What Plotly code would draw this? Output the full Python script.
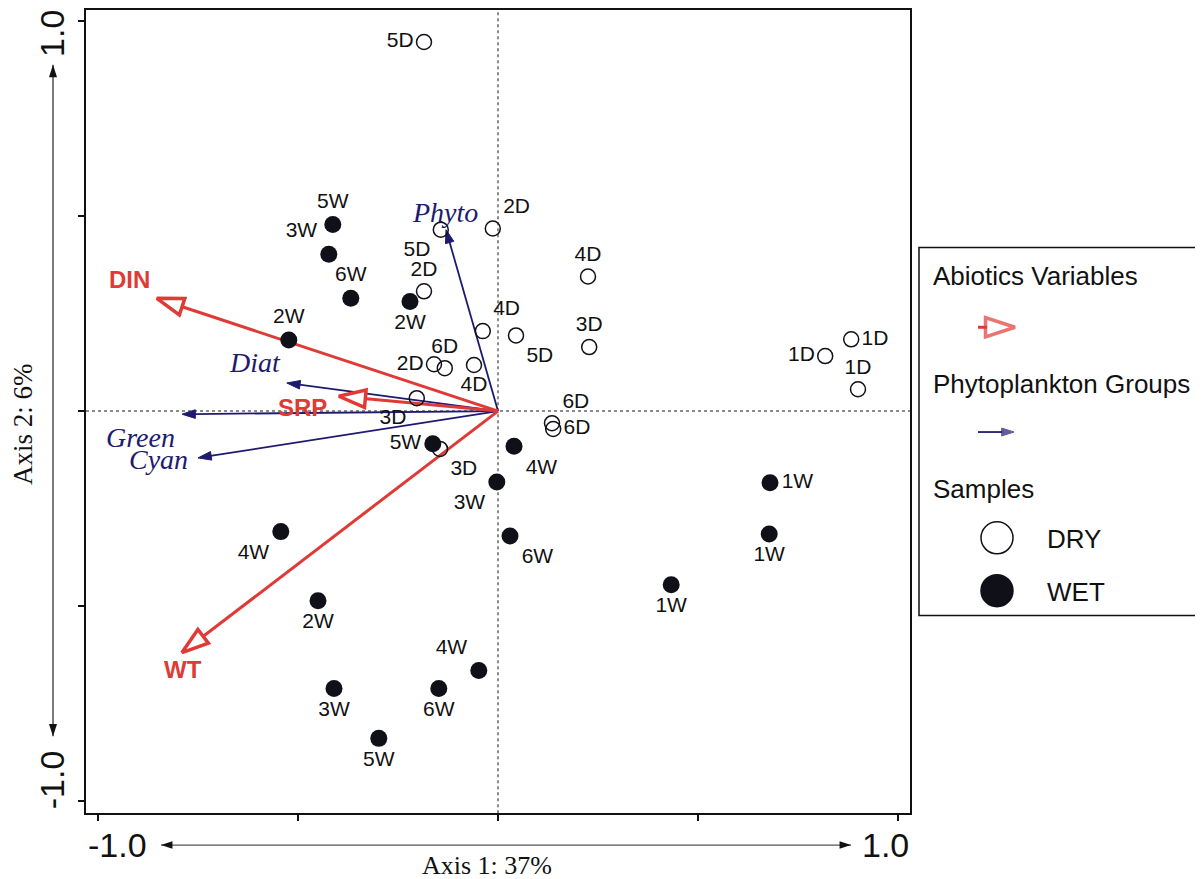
import plotly.graph_objects as go

# ---------------- data ----------------
dry_labels = ["5D", "2D", "5D", "2D", "4D", "4D", "5D", "3D", "2D", "6D", "4D", "3D", "6D", "6D", "3D", "1D", "1D", "1D"]
dry_x = [-0.185, -0.013, -0.143, -0.185, 0.225, -0.038, 0.045, 0.228, -0.160, -0.133, -0.060, -0.203, 0.135, 0.138, -0.145, 0.818, 0.883, 0.900]
dry_y = [0.946, 0.468, 0.465, 0.307, 0.345, 0.205, 0.194, 0.164, 0.120, 0.110, 0.118, 0.033, -0.031, -0.046, -0.097, 0.141, 0.184, 0.056]

wet_labels = ["5W", "3W", "6W", "2W", "2W", "5W", "4W", "3W", "6W", "1W", "1W", "1W", "4W", "2W", "4W", "3W", "6W", "5W"]
wet_x = [-0.413, -0.423, -0.368, -0.220, -0.523, -0.163, 0.040, -0.003, 0.030, 0.680, 0.678, 0.433, -0.543, -0.450, -0.048, -0.410, -0.148, -0.298]
wet_y = [0.478, 0.402, 0.289, 0.281, 0.182, -0.084, -0.090, -0.182, -0.320, -0.184, -0.315, -0.445, -0.309, -0.486, -0.665, -0.711, -0.711, -0.839]

abiotic_names = ["DIN", "SRP", "WT"]
abiotic_x = [-0.853, -0.398, -0.790]
abiotic_y = [0.289, 0.038, -0.619]

phyto_names = ["Phyto", "Diat", "Green", "Cyan"]
phyto_x = [-0.130, -0.528, -0.790, -0.750]
phyto_y = [0.465, 0.072, -0.008, -0.120]

axis_tick_text = ["-1.0", "1.0"]
axis1_title = "Axis 1: 37%"
axis2_title = "Axis 2: 6%"
legend_titles = ["Abiotics Variables", "Phytoplankton Groups", "Samples"]
legend_samples = ["DRY", "WET"]

# ---------------- styles ----------------
O = 8  # page body margin offset
W, H = 1203 - O, 879 - O
PL, PR, PT, PB = 86 - O, 910 - O, 8 - O, 813 - O
RED = "#E03A36"
NAVY = "#1E1A70"
BLACK = "#101018"
SANS = "Liberation Sans, Arial, sans-serif"
SERIF = "Liberation Serif, Times New Roman, serif"


def P(v):
    return v - O


dry_pos = ["middle left", "top right", "bottom left", "top center", "top center", "top right",
           "bottom right", "top center", "middle left", "top center", "bottom center", "bottom left",
           "top right", "middle right", "bottom right", "middle left", "middle right", "top center"]
wet_pos = ["top center", "top left", "top center", "bottom center", "top center", "middle left",
           "bottom right", "bottom left", "bottom right", "middle right", "bottom center", "bottom center",
           "bottom left", "bottom center", "top left", "bottom center", "bottom center", "bottom center"]

abiotic_shift = [(-27, 19), (-36, -11), (1, -17)]
phyto_shift = [(-1, 17), (-32, 20), (-42, -23), (-40, -2)]

fig = go.Figure()


def add_vector(x, y, color, width, size, fill, outline):
    fig.add_trace(go.Scatter(
        x=[0, x], y=[0, y], mode="lines+markers",
        line=dict(color=color, width=width),
        marker=dict(symbol=["circle", "arrow"], size=[0, size], color=fill, opacity=1,
                    angleref="previous", line=dict(color=color, width=[0, outline])),
        hoverinfo="skip", showlegend=False, cliponaxis=False))


for vx, vy in zip(phyto_x, phyto_y):
    add_vector(vx, vy, NAVY, 1.8, 14, NAVY, 1)
for vx, vy in zip(abiotic_x, abiotic_y):
    add_vector(vx, vy, RED, 3, 28, "white", 3.5)

fig.add_trace(go.Scatter(
    x=wet_x, y=wet_y, mode="markers+text", text=wet_labels, textposition=wet_pos,
    marker=dict(symbol="circle", size=17, color=BLACK),
    textfont=dict(family=SANS, size=21, color="#111111"),
    hoverinfo="skip", showlegend=False, cliponaxis=False))
fig.add_trace(go.Scatter(
    x=dry_x, y=dry_y, mode="markers+text", text=dry_labels, textposition=dry_pos,
    marker=dict(symbol="circle-open", size=15, color=BLACK, line=dict(width=1.5)),
    textfont=dict(family=SANS, size=21, color="#111111"),
    hoverinfo="skip", showlegend=False, cliponaxis=False))

annotations = []
for name, vx, vy, (dx, dy) in zip(abiotic_names, abiotic_x, abiotic_y, abiotic_shift):
    annotations.append(dict(x=vx, y=vy, xref="x", yref="y", text="<b>%s</b>" % name, showarrow=False,
                            xshift=dx, yshift=dy, font=dict(family=SANS, size=24, color=RED)))
for name, vx, vy, (dx, dy) in zip(phyto_names, phyto_x, phyto_y, phyto_shift):
    annotations.append(dict(x=vx, y=vy, xref="x", yref="y", text="<i>%s</i>" % name, showarrow=False,
                            xshift=dx, yshift=dy, font=dict(family=SERIF, size=28, color=NAVY)))


def pix_text(x, y, text, size, family=SANS, angle=0, xanchor="center", color="#111111"):
    annotations.append(dict(x=P(x), y=P(y), xref="x2", yref="y2", text=text, showarrow=False,
                            textangle=angle, xanchor=xanchor, yanchor="middle",
                            font=dict(family=family, size=size, color=color)))


pix_text(117, 845, axis_tick_text[0], 34)
pix_text(885, 845, axis_tick_text[1], 34)
pix_text(52, 32, axis_tick_text[1], 34, angle=-90)
pix_text(52, 780, axis_tick_text[0], 34, angle=-90)
pix_text(487, 865, axis1_title, 26, family=SERIF)
pix_text(23, 423, axis2_title, 27, family=SERIF, angle=-90)
pix_text(931, 275, legend_titles[0], 26, xanchor="left")
pix_text(931, 383, legend_titles[1], 26, xanchor="left")
pix_text(931, 488, legend_titles[2], 26, xanchor="left")
pix_text(1045, 538, legend_samples[0], 26, xanchor="left")
pix_text(1045, 591, legend_samples[1], 26, xanchor="left")

# axis double arrows
fig.add_trace(go.Scatter(x=[P(53), P(53)], y=[P(63), P(736)], mode="lines+markers", xaxis="x2", yaxis="y2",
                         line=dict(color="#222222", width=1.2),
                         marker=dict(symbol="arrow", size=13, angle=[0, 180], color="#111111"),
                         hoverinfo="skip", showlegend=False))
fig.add_trace(go.Scatter(x=[P(161), P(851)], y=[P(845), P(845)], mode="lines+markers", xaxis="x2", yaxis="y2",
                         line=dict(color="#555555", width=1.2),
                         marker=dict(symbol="arrow", size=12, angle=[270, 90], color="#111111"),
                         hoverinfo="skip", showlegend=False))

# legend symbols
fig.add_trace(go.Scatter(x=[P(978), P(1015)], y=[P(326), P(326)], mode="lines+markers", xaxis="x2", yaxis="y2",
                         line=dict(color=RED, width=3),
                         marker=dict(symbol=["circle", "arrow"], size=[0, 31], color="white",
                                     angleref="previous", line=dict(color=RED, width=[0, 3.5])),
                         hoverinfo="skip", showlegend=False))
fig.add_trace(go.Scatter(x=[P(978), P(1014)], y=[P(431), P(431)], mode="lines+markers", xaxis="x2", yaxis="y2",
                         line=dict(color=NAVY, width=1.8),
                         marker=dict(symbol=["circle", "arrow"], size=[0, 13], color=NAVY,
                                     angleref="previous", line=dict(color=NAVY, width=[0, 1])),
                         hoverinfo="skip", showlegend=False))
fig.add_trace(go.Scatter(x=[P(997), P(997)], y=[P(537), P(590)], mode="markers", xaxis="x2", yaxis="y2",
                         marker=dict(symbol=["circle-open", "circle"], size=32, color=BLACK,
                                     line=dict(width=1.5, color=BLACK)),
                         hoverinfo="skip", showlegend=False))

shapes = [
    dict(type="line", xref="x", yref="y domain", x0=0, x1=0, y0=0, y1=1,
         line=dict(color="#666666", width=1.5, dash="dot"), layer="below"),
    dict(type="line", xref="x domain", yref="y", x0=0, x1=1, y0=0, y1=0,
         line=dict(color="#666666", width=1.5, dash="dot"), layer="below"),
    dict(type="rect", xref="x2", yref="y2", x0=P(919), x1=P(1215), y0=P(246), y1=P(615),
         line=dict(color="#111111", width=1.5)),
]

xr = [-1 - (98 - 86) / 400, 1 + (910 - 898) / 400]
yr = [-(813 - 410) / 391, (410 - 8) / 391]

fig.update_layout(
    width=W, height=H, margin=dict(l=0, r=0, t=0, b=0),
    paper_bgcolor="white", plot_bgcolor="rgba(0,0,0,0)",
    showlegend=False,
    xaxis=dict(domain=[PL / W, PR / W], range=xr, showgrid=False, zeroline=False,
               showline=True, mirror=True, linecolor="#111111", linewidth=2,
               ticks="outside", ticklen=6, tickwidth=1.5, tickcolor="#111111",
               tickvals=[-1, -0.5, 0, 0.5, 1], showticklabels=False, anchor="y"),
    yaxis=dict(domain=[(H - PB) / H, (H - PT) / H], range=yr, showgrid=False, zeroline=False,
               showline=True, mirror=True, linecolor="#111111", linewidth=2,
               ticks="outside", ticklen=6, tickwidth=1.5, tickcolor="#111111",
               tickvals=[-1, -0.5, 0, 0.5, 1], showticklabels=False, anchor="x"),
    xaxis2=dict(domain=[0, 1], range=[0, W], visible=False, anchor="y2"),
    yaxis2=dict(domain=[0, 1], range=[H, 0], visible=False, anchor="x2"),
    annotations=annotations, shapes=shapes,
)

fig.write_html("out.html")
